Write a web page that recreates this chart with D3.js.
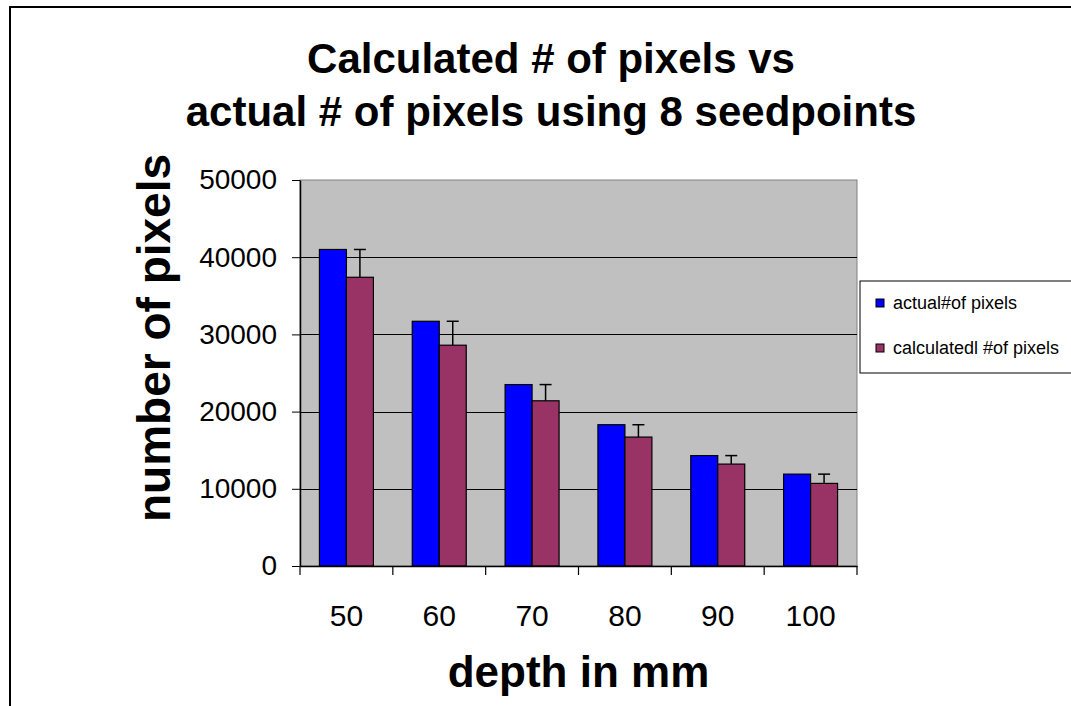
<!DOCTYPE html>
<meta charset="utf-8">
<style>
  body { margin: 0; background: #fff; }
  text { font-family: Arial, "Liberation Sans", sans-serif; fill: #000; }
</style>
<body>
<svg id="chart" width="1071" height="706"></svg>
</body>
<script src="https://d3js.org/d3.v7.min.js"></script>
<script>
// values
var depth = ["50", "60", "70", "80", "90", "100"];
var actualPixels = [41000, 31700, 23500, 18300, 14300, 11900];
var calculatedPixels = [37400, 28600, 21400, 16700, 13200, 10700];
var errorPlus = [3600, 3100, 2100, 1600, 1100, 1200];
var yTicks = [0, 10000, 20000, 30000, 40000, 50000];
var seriesNames = ["actual#of pixels", "calculatedl #of pixels"];
var seriesColors = ["#0000ff", "#993366"];

var svg = d3.select("#chart");

// outer frame
svg.append("rect")
  .attr("x", 10).attr("y", 7)
  .attr("width", 1200).attr("height", 900)
  .attr("fill", "none").attr("stroke", "#000").attr("stroke-width", 2);

var plot = {left: 300, right: 857, top: 180, bottom: 566};

var x0 = d3.scaleBand().domain(depth).range([plot.left, plot.right]);
var x1 = d3.scaleBand().domain([0, 1]).range([0, x0.bandwidth()]).paddingOuter(0.72);
var y = d3.scaleLinear().domain([0, 50000]).range([plot.bottom, plot.top]);

// plot area
svg.append("rect")
  .attr("x", plot.left).attr("y", plot.top)
  .attr("width", plot.right - plot.left).attr("height", plot.bottom - plot.top)
  .attr("fill", "#c0c0c0").attr("stroke", "#808080").attr("stroke-width", 1);

// gridlines
svg.append("g").selectAll("line")
  .data(yTicks.filter(function(d){ return d > 0 && d < 50000; }))
  .enter().append("line")
  .attr("x1", plot.left).attr("x2", plot.right)
  .attr("y1", function(d){ return Math.round(y(d)) + 0.5; })
  .attr("y2", function(d){ return Math.round(y(d)) + 0.5; })
  .attr("stroke", "#000").attr("stroke-width", 1);

// bars
var rows = depth.map(function(d, i){
  return {depth: d, vals: [actualPixels[i], calculatedPixels[i]], err: errorPlus[i]};
});

var groups = svg.append("g").selectAll("g")
  .data(rows).enter().append("g")
  .attr("transform", function(d){ return "translate(" + x0(d.depth) + ",0)"; });

groups.selectAll("rect")
  .data(function(d){ return d.vals; })
  .enter().append("rect")
  .attr("x", function(d, i){ return x1(i); })
  .attr("y", function(d){ return y(d); })
  .attr("width", x1.bandwidth())
  .attr("height", function(d){ return y(0) - y(d); })
  .attr("fill", function(d, i){ return seriesColors[i]; })
  .attr("stroke", "#000").attr("stroke-width", 1.2);

// plus error bars on the calculated series
groups.each(function(d){
  var g = d3.select(this);
  var cx = x1(1) + x1.bandwidth() / 2;
  var top = y(d.vals[1] + d.err);
  g.append("line")
    .attr("x1", cx).attr("x2", cx)
    .attr("y1", y(d.vals[1])).attr("y2", top)
    .attr("stroke", "#000").attr("stroke-width", 1.5);
  g.append("line")
    .attr("x1", cx - 6).attr("x2", cx + 6)
    .attr("y1", top).attr("y2", top)
    .attr("stroke", "#000").attr("stroke-width", 1.5);
});

// y axis
var yAxis = svg.append("g")
  .attr("transform", "translate(" + plot.left + ",0)")
  .call(d3.axisLeft(y).tickValues(yTicks).tickSize(8).tickSizeOuter(0).tickFormat(d3.format("d")));
yAxis.select(".domain").attr("stroke", "#000").attr("stroke-width", 1.5);
yAxis.selectAll(".tick line").attr("stroke", "#000");
yAxis.selectAll("text")
  .attr("x", -23)
  .style("font-size", "28px");

// x axis
var xAxis = svg.append("g")
  .attr("transform", "translate(0," + plot.bottom + ")")
  .call(d3.axisBottom(x0).tickSize(0).tickSizeOuter(0));
xAxis.select(".domain").attr("stroke", "#000").attr("stroke-width", 1.5);
xAxis.selectAll("text")
  .attr("y", 60).attr("dy", 0)
  .style("font-size", "30px");
// category boundary ticks
xAxis.selectAll(".bound")
  .data(depth.map(function(d){ return x0(d); }).concat([plot.right]))
  .enter().append("line")
  .attr("class", "bound")
  .attr("x1", function(d){ return d; }).attr("x2", function(d){ return d; })
  .attr("y1", 0).attr("y2", 9)
  .attr("stroke", "#000").attr("stroke-width", 1.2);

// titles
var title = svg.append("text")
  .attr("text-anchor", "middle")
  .style("font-size", "42px").style("font-weight", "bold");
title.append("tspan").attr("x", 551).attr("y", 73).text("Calculated # of pixels vs");
title.append("tspan").attr("x", 551).attr("y", 126).text("actual # of pixels using 8 seedpoints");

svg.append("text")
  .attr("text-anchor", "middle")
  .attr("transform", "translate(170,338) rotate(-90)")
  .style("font-size", "46px").style("font-weight", "bold")
  .text("number of pixels");

svg.append("text")
  .attr("x", (plot.left + plot.right) / 2).attr("y", 687)
  .attr("text-anchor", "middle")
  .style("font-size", "44px").style("font-weight", "bold")
  .text("depth in mm");

// legend
var legend = svg.append("g").attr("transform", "translate(860,281)");
legend.append("rect")
  .attr("x", 0).attr("y", 0).attr("width", 300).attr("height", 92)
  .attr("fill", "#fff").attr("stroke", "#000").attr("stroke-width", 1);
var items = legend.selectAll(".item")
  .data(seriesNames).enter().append("g")
  .attr("class", "item")
  .attr("transform", function(d, i){ return "translate(16," + (18 + i * 45) + ")"; });
items.append("rect")
  .attr("width", 8).attr("height", 8)
  .attr("fill", function(d, i){ return seriesColors[i]; })
  .attr("stroke", "#000").attr("stroke-width", 1);
items.append("text")
  .attr("x", 17).attr("y", 10)
  .style("font-size", "18px")
  .text(function(d){ return d; });
</script>
